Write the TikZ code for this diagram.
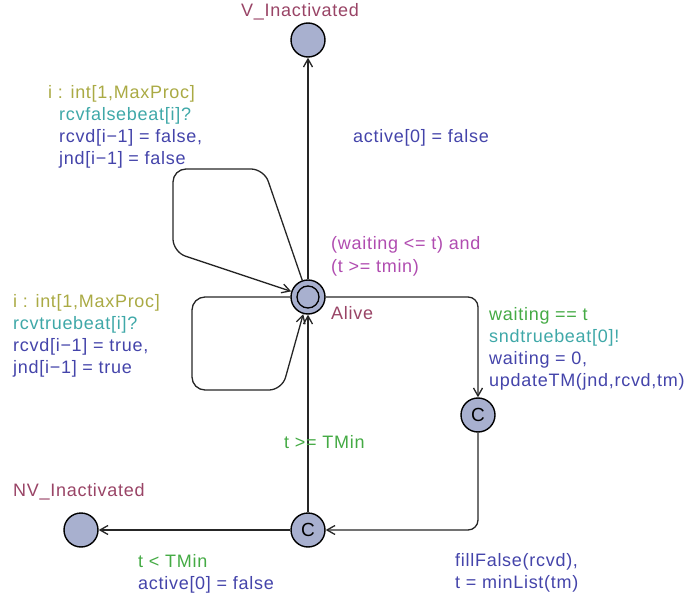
\documentclass[tikz,border=0pt]{standalone}
\usepackage{fontspec}
\setmainfont{Liberation Sans}[LetterSpace=4]
\usetikzlibrary{arrows.meta}
\definecolor{locname}{HTML}{994466}
\definecolor{invcol}{HTML}{B04CB0}
\definecolor{guardcol}{HTML}{44AA44}
\definecolor{synccol}{HTML}{3FA8A8}
\definecolor{assigncol}{HTML}{4444AA}
\definecolor{selcol}{HTML}{AAAA44}
\definecolor{locfill}{HTML}{A8B0CF}
\tikzset{
  loc/.style={circle, draw=black, line width=1.4pt, fill=locfill, minimum size=34pt, inner sep=0pt, font=\fontsize{19}{22}\selectfont},
  edge/.style={draw=black!85, line width=1.3pt, -{Straight Barb[length=8pt,width=9pt,line width=1.3pt]}},
  lbl/.style={anchor=base west, inner sep=0pt, font=\fontsize{18}{22}\selectfont},
  nm/.style={lbl, text=locname},
  inv/.style={lbl, text=invcol},
  grd/.style={lbl, text=guardcol},
  syn/.style={lbl, text=synccol},
  asg/.style={lbl, text=assigncol},
  sel/.style={lbl, text=selcol}
}
\begin{document}
\begin{tikzpicture}[x=1pt,y=-1pt]
\useasboundingbox (0,0) rectangle (686,599);
% locations
\node[loc] (V) at (308,40) {};
\node[loc] (A) at (308,297) {};
\draw[line width=1.3pt] (A.center) circle (11pt);
\node[loc] (C1) at (478,415) {C};
\node[loc] (C2) at (308,530) {C};
\node[loc] (NV) at (81,530) {};
% location names
\node[nm] (Vn) at (241,17) {V\_Inactivated};
\node[nm] (An) at (331,319) {Alive};
\node[nm] (NVn) at (13,496) {NV\_Inactivated};
\node[inv] (Ainv1) at (331,250) {(waiting <= t) and};
\node[inv] (Ainv2) at (331,272) {(t >= tmin)};
% nails
\coordinate (n1) at (264,169);
\coordinate (n2) at (173,169);
\coordinate (n3) at (173,252);
\coordinate (n4) at (192,297);
\coordinate (n5) at (192,390);
\coordinate (n6) at (282,390);
% edges
\draw[edge] (A) -- (V);
\draw[edge, rounded corners=10pt] (A) -| (C1);
\draw[edge, rounded corners=10pt] (C1) |- (C2);
\draw[edge] (C2) -- (A);
\draw[edge] (C2) -- (NV);
\draw[edge, rounded corners=13pt] (A) -- (n1) -- (n2) -- (n3) -- (A);
\draw[edge, rounded corners=13pt] (A) -- (n4) -- (n5) -- (n6) -- (A);
% edge labels
\node[asg] (e1a) at (353,143) {active[0] = false};
\node[sel] (l1s) at (48,99) {i : int[1,MaxProc]};
\node[syn] (l1y) at (59,121) {rcvfalsebeat[i]?};
\node[asg] (l1a) at (59,143) {rcvd[i−1] = false,};
\node[asg] (l1b) at (59,165) {jnd[i−1] = false};
\node[sel] (l2s) at (13,307) {i : int[1,MaxProc]};
\node[syn] (l2y) at (13,329) {rcvtruebeat[i]?};
\node[asg] (l2a) at (13,351) {rcvd[i−1] = true,};
\node[asg] (l2b) at (13,373) {jnd[i−1] = true};
\node[grd] (e2g) at (489,320) {waiting == t};
\node[syn] (e2y) at (489,342) {sndtruebeat[0]!};
\node[asg] (e2a) at (489,364) {waiting = 0,};
\node[asg] (e2b) at (489,386) {updateTM(jnd,rcvd,tm)};
\node[asg] (e3a) at (455,566) {fillFalse(rcvd),};
\node[asg] (e3b) at (455,588) {t = minList(tm)};
\node[grd] (e4g) at (284,448) {t >= TMin};
\node[grd] (e5g) at (138,567) {t < TMin};
\node[asg] (e5a) at (138,589) {active[0] = false};
\end{tikzpicture}
\end{document}
